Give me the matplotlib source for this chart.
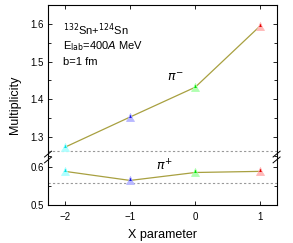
import numpy as np
import matplotlib.pyplot as plt
from matplotlib.ticker import MultipleLocator

# datos
x_param = [-2, -1, 0, 1]
pi_minus = [1.273, 1.353, 1.432, 1.595]
pi_plus = [0.589, 0.565, 0.586, 0.589]
marker_colors = ['#00e5e5', '#1a1ae6', '#00e000', '#e60000']
marker_light = ['#b0ffff', '#b8b8ff', '#b0ffb0', '#ffb8b8']
ref_top = 1.262
ref_bottom = 0.558

plt.rcParams['font.family'] = 'Liberation Sans'
plt.rcParams['font.size'] = 7

fig = plt.figure(figsize=(2.93, 2.43), dpi=100)
fig.patch.set_facecolor('white')
left, right = 0.164, 0.944
ybot, ybreak, ytop = 1 - 205 / 243, 1 - 157 / 243, 1 - 5 / 243
ax_top = fig.add_axes([left, ybreak, right - left, ytop - ybreak])
ax_bot = fig.add_axes([left, ybot, right - left, ybreak - ybot], sharex=ax_top)

linea = '#a8a040'
for ax, vals in [(ax_top, pi_minus), (ax_bot, pi_plus)]:
    ax.plot(x_param, vals, color=linea, lw=0.9, zorder=2)
    for xi, yi, c, cl in zip(x_param, vals, marker_colors, marker_light):
        ax.plot(xi, yi, marker='^', ms=5.5, fillstyle='top', mfc=c,
                mfcalt=cl, mec=cl, mew=0.6, zorder=3)
    ax.tick_params(direction='in', which='both', top=True, right=True,
                   length=3, width=0.6, labelsize=7, pad=3)
    ax.tick_params(which='minor', length=2)
    for s in ax.spines.values():
        s.set_linewidth(0.8)

ax_top.axhline(ref_top, color='#999999', ls=(0, (2, 2)), lw=0.8)
ax_bot.axhline(ref_bottom, color='#999999', ls=(0, (2, 2)), lw=0.8)

ax_top.set_xlim(-2.26, 1.25)
ax_top.set_ylim(1.247, 1.65)
ax_bot.set_ylim(0.5, 0.627)
ax_top.yaxis.set_major_locator(MultipleLocator(0.1))
ax_top.yaxis.set_minor_locator(MultipleLocator(0.05))
ax_bot.yaxis.set_major_locator(MultipleLocator(0.1))
ax_bot.yaxis.set_minor_locator(MultipleLocator(0.05))
ax_top.yaxis.set_major_formatter(plt.FormatStrFormatter('%.1f'))
ax_bot.yaxis.set_major_formatter(plt.FormatStrFormatter('%.1f'))
ax_top.xaxis.set_major_locator(MultipleLocator(1))
ax_top.spines['bottom'].set_visible(False)
ax_bot.spines['top'].set_visible(False)
ax_top.tick_params(which='both', bottom=False, labelbottom=False)
ax_bot.tick_params(which='both', top=False)
ax_bot.tick_params(axis='x', pad=5)

# marcas de corte
for xb in (0, 1):
    for dy in (-0.012, 0.012):
        fig.add_artist(plt.Line2D([left + (right - left) * xb - 0.012, left + (right - left) * xb + 0.012],
                                  [ybreak + dy - 0.012, ybreak + dy + 0.012],
                                  transform=fig.transFigure, color='black', lw=0.7))

ax_bot.set_xlabel('X parameter', fontsize=9, labelpad=5)
fig.text(0.05, (ybot + ytop) / 2, 'Multiplicity', rotation=90, fontsize=9,
         va='center', ha='center')

ax_top.text(0.065, 0.895, '$^{132}$Sn+$^{124}$Sn', transform=ax_top.transAxes, fontsize=8, va='top')
ax_top.text(0.065, 0.775, 'E$_{\\mathrm{lab}}$=400$A$ MeV', transform=ax_top.transAxes, fontsize=8, va='top')
ax_top.text(0.065, 0.655, 'b=1 fm', transform=ax_top.transAxes, fontsize=8, va='top')
ax_top.text(-0.44, 1.456, '$\\pi^{-}$', fontsize=9, ha='left', va='center')
ax_bot.text(-0.6, 0.603, '$\\pi^{+}$', fontsize=9, ha='left', va='center')

fig.savefig('out.png', dpi=100)
